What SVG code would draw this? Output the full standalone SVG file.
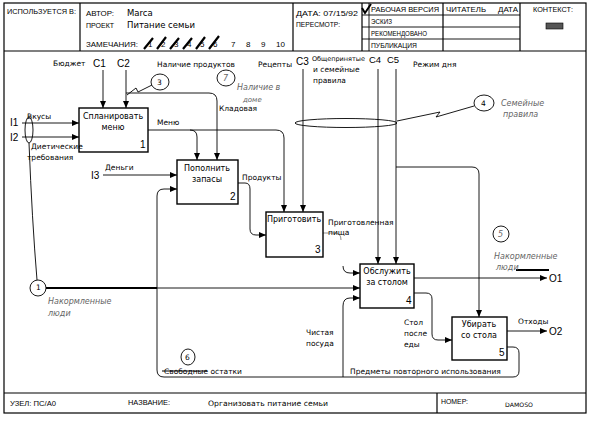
<svg xmlns="http://www.w3.org/2000/svg" width="589" height="422" viewBox="0 0 589 422">
<defs>
<marker id="ah" markerWidth="7" markerHeight="6" refX="7" refY="3" orient="auto" markerUnits="userSpaceOnUse"><path d="M0,0 L7,3 L0,6 Z" fill="#000"/></marker>
<style>
.fr{fill:none;stroke:#000;stroke-width:1.2}
.ln{fill:none;stroke:#000;stroke-width:0.9}
.gl{fill:none;stroke:#777;stroke-width:0.8}
.bx{fill:#fff;stroke:#000;stroke-width:1.4}
.h{font-family:"Liberation Sans",Arial,sans-serif;font-size:8px;fill:#000}
.hv{font-family:"DejaVu Sans","Liberation Sans",sans-serif;font-size:8.5px;fill:#000}
.t{font-family:"DejaVu Sans","Liberation Sans",sans-serif;font-size:7.5px;fill:#000}
.b{font-family:"DejaVu Sans","Liberation Sans",sans-serif;font-size:8px;fill:#000;text-anchor:middle}
.num{font-family:"Liberation Sans",Arial,sans-serif;font-size:10px;fill:#000}
.lab{font-family:"Liberation Sans",Arial,sans-serif;font-size:10px;fill:#000}
.nt{font-family:"DejaVu Sans","Liberation Sans",sans-serif;font-size:8px;font-style:italic;fill:#666}
.cir{fill:#fff;stroke:#000;stroke-width:0.9}
</style>
</defs>
<rect width="589" height="422" fill="#fff"/>
<!-- frame -->
<g id="frame">
<rect class="fr" x="4" y="3" width="582" height="410"/>
<line class="fr" x1="4" y1="51" x2="586" y2="51"/>
<line class="fr" x1="80" y1="3" x2="80" y2="51"/>
<line class="fr" x1="293" y1="3" x2="293" y2="51"/>
<line class="fr" x1="362" y1="3" x2="362" y2="51"/>
<line class="ln" x1="369" y1="3" x2="369" y2="51"/>
<line class="fr" x1="443" y1="3" x2="443" y2="51"/>
<line class="fr" x1="520" y1="3" x2="520" y2="51"/>
<line class="ln" x1="362" y1="15" x2="520" y2="15"/>
<line class="ln" x1="362" y1="27" x2="520" y2="27"/>
<line class="ln" x1="362" y1="39" x2="520" y2="39"/>
<line class="fr" x1="4" y1="393" x2="586" y2="393"/>
<line class="fr" x1="437" y1="393" x2="437" y2="413"/>
</g>
<g id="header">
<text class="h" x="7" y="14" textLength="69" lengthAdjust="spacingAndGlyphs">ИСПОЛЬЗУЕТСЯ В:</text>
<text class="h" x="86" y="16" textLength="28" lengthAdjust="spacingAndGlyphs">АВТОР:</text>
<text class="hv" x="127" y="16">Marca</text>
<text class="h" x="86" y="28" textLength="28" lengthAdjust="spacingAndGlyphs">ПРОЕКТ</text>
<text class="hv" x="127" y="28">Питание семьи</text>
<text class="h" x="86" y="47" textLength="52" lengthAdjust="spacingAndGlyphs">ЗАМЕЧАНИЯ:</text>
<text class="h" x="148" y="47">1</text><text class="h" x="161" y="47">2</text><text class="h" x="174" y="47">3</text><text class="h" x="187" y="47">4</text><text class="h" x="200" y="47">5</text><text class="h" x="213" y="47">6</text>
<path d="M144,49 L153,38 M157,49 L166,37 M170,49 L179,38 M183,49 L192,38 M196,49 L205,37 M209,49 L219,36" stroke="#000" stroke-width="2.2" fill="none"/>
<text class="h" x="231" y="47">7</text><text class="h" x="246" y="47">8</text><text class="h" x="261" y="47">9</text><text class="h" x="276" y="47">10</text>
<text class="h" x="296" y="16" textLength="62" lengthAdjust="spacingAndGlyphs">ДАТА: 07/15/92</text>
<text class="h" x="296" y="27" textLength="44" lengthAdjust="spacingAndGlyphs">ПЕРЕСМОТР:</text>
<path d="M362,8 L365,13 L371,4" stroke="#000" stroke-width="2" fill="none"/>
<text class="h" x="371" y="12" textLength="68" lengthAdjust="spacingAndGlyphs">РАБОЧАЯ ВЕРСИЯ</text>
<text class="h" x="371" y="24" textLength="21" lengthAdjust="spacingAndGlyphs">ЭСКИЗ</text>
<text class="h" x="371" y="36" textLength="56" lengthAdjust="spacingAndGlyphs">РЕКОМЕНДОВАНО</text>
<text class="h" x="371" y="48" textLength="46" lengthAdjust="spacingAndGlyphs">ПУБЛИКАЦИЯ</text>
<text class="h" x="446" y="12" textLength="40" lengthAdjust="spacingAndGlyphs">ЧИТАТЕЛЬ</text>
<text class="h" x="498" y="12" textLength="20" lengthAdjust="spacingAndGlyphs">ДАТА</text>
<text class="h" x="533" y="12" textLength="40" lengthAdjust="spacingAndGlyphs">КОНТЕКСТ:</text>
<rect x="546" y="23" width="17" height="6" fill="#555" stroke="#000" stroke-width="0.6"/>
</g>
<g id="footer">
<text class="h" x="10" y="406" textLength="46" lengthAdjust="spacingAndGlyphs">УЗЕЛ:  ПС/А0</text>
<text class="h" x="128" y="405" textLength="42" lengthAdjust="spacingAndGlyphs">НАЗВАНИЕ:</text>
<text class="t" x="208" y="406" textLength="120" lengthAdjust="spacingAndGlyphs">Организовать питание семьи</text>
<text class="h" x="441" y="404" textLength="27" lengthAdjust="spacingAndGlyphs">НОМЕР:</text>
<text class="t" x="505" y="407" style="font-size:6px" textLength="28" lengthAdjust="spacingAndGlyphs">DAMOSO</text>
</g>
<!-- connectors -->
<g id="connectors">
<path class="ln" d="M103,70 V108" marker-end="url(#ah)"/>
<path class="ln" d="M126,70 V108" marker-end="url(#ah)"/>
<path class="ln" d="M126,93 H209 Q217,93 217,101 V160" marker-end="url(#ah)"/>
<path class="ln" d="M148,130 H276 Q284,130 284,138 V212" marker-end="url(#ah)"/>
<path class="ln" d="M190,130 Q197,130 197,137 V160" marker-end="url(#ah)"/>
<path class="ln" d="M303,69 V212" marker-end="url(#ah)"/>
<path class="ln" d="M378,69 V264" marker-end="url(#ah)"/>
<path class="ln" d="M396,69 V264" marker-end="url(#ah)"/>
<path class="ln" d="M396,167 H472 Q479,167 479,174 V317" marker-end="url(#ah)"/>
<path class="ln" d="M238,183 H245 Q250,183 250,189 V229 Q250,235 256,235 H266" marker-end="url(#ah)"/>
<path class="gl" d="M323,233 H335 Q341,233 341,240"/>
<path class="ln" d="M343,266 Q343,273 350,273 H360" marker-end="url(#ah)"/>
<path class="ln" d="M414,278 H547" marker-end="url(#ah)"/>
<path class="ln" d="M414,293 H426 Q432,293 432,299 V334 Q432,340 438,340 H452" marker-end="url(#ah)"/>
<path class="ln" d="M507,331 H547" marker-end="url(#ah)"/>
<path class="ln" d="M507,347 H513 Q519,347 519,353 V371 Q519,377 513,377 H164 Q157,377 157,370 V196 Q157,189 164,189 H177" marker-end="url(#ah)"/>
<path class="ln" d="M343,377 V306 Q343,298 350,298 H360" marker-end="url(#ah)"/>
<path class="ln" d="M22,123 H79" marker-end="url(#ah)"/>
<path class="ln" d="M22,137 H79" marker-end="url(#ah)"/>
<path class="ln" d="M103,175 H177" marker-end="url(#ah)"/>
<path stroke="#000" stroke-width="2.2" fill="none" d="M46,288 H157"/>
<path class="ln" d="M157,288 H360" marker-end="url(#ah)"/>
<path class="ln" d="M29,143 Q32,220 37,280"/>
<ellipse class="ln" cx="29" cy="130" rx="4" ry="13"/>
<ellipse class="ln" cx="346" cy="123" rx="51" ry="4.5"/>
<path class="ln" d="M127,95 L136,88 L138,92 L152,85"/>
<path class="ln" d="M397,121 L440,112 L436,117 L474,106"/>
<path stroke="#000" stroke-width="2" fill="none" d="M516,270 H549"/>
</g>
<!-- nodes -->
<g id="node1">
<rect class="bx" x="79" y="108" width="69" height="44"/>
<text class="b" x="113" y="119">Спланировать</text>
<text class="b" x="113" y="130">меню</text>
<text class="num" x="140" y="148">1</text>
</g>
<g id="node2">
<rect class="bx" x="177" y="160" width="61" height="44"/>
<text class="b" x="207" y="171">Пополнить</text>
<text class="b" x="207" y="182">запасы</text>
<text class="num" x="230" y="200">2</text>
</g>
<g id="node3">
<rect class="bx" x="266" y="212" width="57" height="45"/>
<text class="b" x="294" y="222">Приготовить</text>
<text class="num" x="315" y="253">3</text>
</g>
<g id="node4">
<rect class="bx" x="360" y="264" width="54" height="44"/>
<text class="b" x="387" y="274">Обслужить</text>
<text class="b" x="387" y="285">за столом</text>
<text class="num" x="406" y="304">4</text>
</g>
<g id="node5">
<rect class="bx" x="452" y="317" width="55" height="43"/>
<text class="b" x="479" y="327">Убирать</text>
<text class="b" x="479" y="338">со стола</text>
<text class="num" x="499" y="356">5</text>
</g>
<!-- labels -->
<g id="labels">
<text class="t" x="53" y="66">Бюджет</text>
<text class="lab" x="93" y="67">C1</text>
<text class="lab" x="117" y="67">C2</text>
<text class="t" x="157" y="67">Наличие продуктов</text>
<text class="t" x="258" y="67">Рецепты</text>
<text class="lab" x="296" y="65">C3</text>
<text class="t" x="312" y="61" style="font-size:6.5px">Общепринятые</text>
<text class="t" x="313" y="72">и семейные</text>
<text class="t" x="313" y="83">правила</text>
<text class="lab" x="369" y="63" style="font-size:9.5px">C4</text>
<text class="lab" x="387" y="63" style="font-size:9.5px">C5</text>
<text class="t" x="413" y="67">Режим дня</text>
<text class="t" x="219" y="111">Кладовая</text>
<text class="t" x="157" y="125">Меню</text>
<text class="lab" x="10" y="126">I1</text>
<text class="lab" x="10" y="141">I2</text>
<text class="t" x="27" y="119">Вкусы</text>
<text class="t" x="31" y="149">Диетические</text>
<text class="t" x="27" y="160">требования</text>
<text class="lab" x="91" y="179">I3</text>
<text class="t" x="105" y="170">Деньги</text>
<text class="t" x="242" y="180">Продукты</text>
<text class="t" x="328" y="225">Приготовленная</text>
<text class="t" x="328" y="235">пища</text>
<text class="lab" x="549" y="282">O1</text>
<text class="lab" x="549" y="335">O2</text>
<text class="t" x="518" y="324">Отходы</text>
<text class="t" x="404" y="325">Стол</text>
<text class="t" x="404" y="336">после</text>
<text class="t" x="404" y="347">еды</text>
<text class="t" x="306" y="335">Чистая</text>
<text class="t" x="306" y="346">посуда</text>
<text class="t" x="350" y="374">Предметы повторного использования</text>
<text class="t" x="164" y="374">Свободные остатки</text>
<line x1="162" y1="371" x2="207" y2="371" stroke="#000" stroke-width="1"/>
</g>
<g id="notes">
<ellipse class="cir" cx="160" cy="82" rx="9" ry="8"/><text class="t" x="157" y="85">3</text>
<ellipse class="cir" cx="226" cy="78" rx="9" ry="8"/><text class="nt" x="223" y="81">7</text>
<text class="nt" x="237" y="90">Наличие в</text>
<text class="nt" x="243" y="102" style="font-size:7px">доме</text>
<ellipse class="cir" cx="484" cy="103" rx="10" ry="8"/><text class="t" x="481" y="106">4</text>
<text class="nt" x="501" y="106">Семейные</text>
<text class="nt" x="503" y="117">правила</text>
<ellipse class="cir" cx="501" cy="234" rx="8" ry="8"/><text class="nt" x="498" y="237">5</text>
<text class="nt" x="494" y="259">Накормленные</text>
<text class="nt" x="496" y="270">люди</text>
<ellipse class="cir" cx="38" cy="288" rx="8" ry="8"/><text class="t" x="36" y="290">1</text>
<text class="nt" x="48" y="304">Накормленные</text>
<text class="nt" x="48" y="316">люди</text>
<ellipse class="cir" cx="188" cy="357" rx="7" ry="8"/><text class="t" x="185" y="360">6</text>
</g>
</svg>
